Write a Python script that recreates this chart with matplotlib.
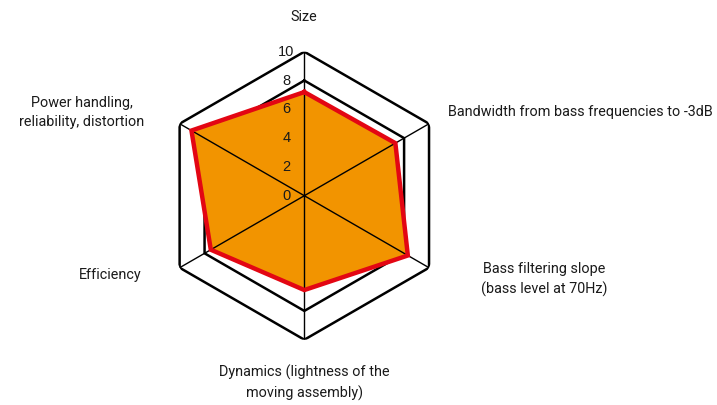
import numpy as np
import matplotlib
matplotlib.use("Agg")
import matplotlib.pyplot as plt

categories = ["Size",
              "Bandwidth from bass frequencies to -3dB",
              "Bass filtering slope\n(bass level at 70Hz)",
              "Dynamics (lightness of the\nmoving assembly)",
              "Efficiency",
              "Power handling,\nreliability, distortion"]
values = [7.2, 7.3, 8.3, 6.55, 7.5, 9.05]
rings = [8, 10]
tick_values = [0, 2, 4, 6, 8, 10]

# label placement relative to each outer vertex (pixels) and alignment
label_offsets = [(-1, 35), (19, 12), (115, -12), (0, -43), (-38, -7), (-98, 11)]
label_align = ["center", "left", "center", "center", "right", "center"]

fill_color = "#F29400"
edge_color = "#E30613"
text_color = "#1a1a1a"

fig = plt.figure(figsize=(7.17, 4.05), dpi=100)
ax = fig.add_axes([0.2236, 0.1612, 0.4017, 0.7111], projection="polar")
ax.set_theta_zero_location("N")
ax.set_theta_direction(-1)
ax.set_ylim(0, 10)
ax.grid(False)
ax.set_xticks([])
ax.set_yticks([])
ax.spines["polar"].set_visible(False)
ax.patch.set_visible(False)

n = len(categories)
theta = np.arange(n) * 2 * np.pi / n
theta_closed = np.append(theta, theta[0])

# hexagonal rings sit under the fill
for r in rings:
    ax.plot(theta_closed, [r] * (n + 1), color="black", linewidth=1.8,
            solid_joinstyle="miter", zorder=1)

# data polygon
vals_closed = values + values[:1]
ax.fill(theta_closed, vals_closed, color=fill_color, zorder=2)

# spokes over the fill
for t in theta:
    ax.plot([t, t], [0, 10], color="black", linewidth=1.0, zorder=3)

ax.plot(theta_closed, vals_closed, color=edge_color, linewidth=3.2,
        solid_joinstyle="miter", zorder=4)

# radial tick labels
for v in tick_values:
    ax.annotate(str(v), xy=(0, v), xytext=(-18, 0), textcoords="offset pixels",
                ha="center", va="center", fontsize=10.5,
                family="Liberation Sans", color=text_color, zorder=5)

# category labels
for t, lab, off, ha in zip(theta, categories, label_offsets, label_align):
    ax.annotate(lab, xy=(t, 10), xytext=off, textcoords="offset pixels",
                ha=ha, va="center", multialignment="center",
                fontsize=10.4, family="Roboto", color=text_color,
                linespacing=1.5, annotation_clip=False)

fig.savefig("out.png", dpi=100)
